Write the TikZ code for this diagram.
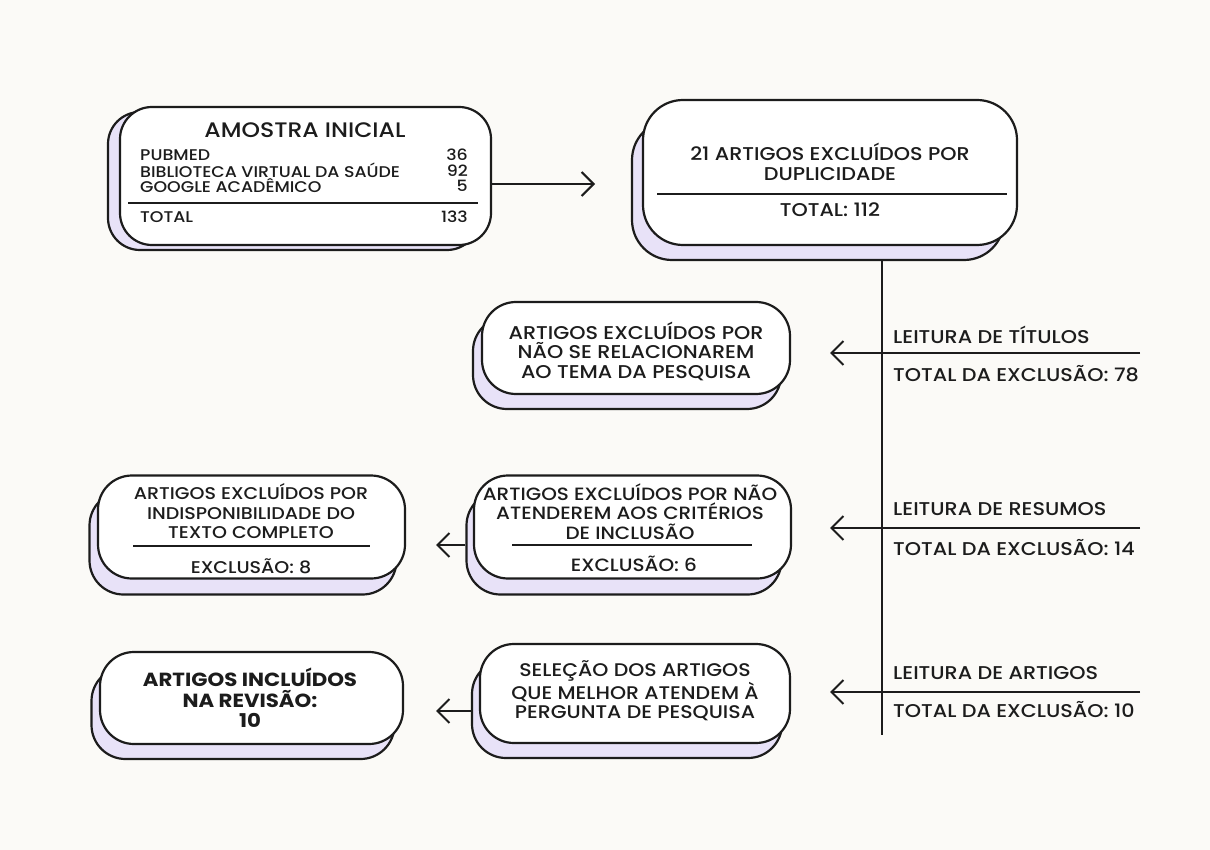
\documentclass[tikz,border=0pt]{standalone}
\usepackage{fontspec}
\setmainfont{Poppins}[UprightFont=* Medium, BoldFont=* Bold, FakeStretch=1.12]
\usetikzlibrary{arrows.meta,calc}
\definecolor{bgc}{RGB}{251,250,247}
\definecolor{lav}{RGB}{232,226,248}
\definecolor{ink}{RGB}{28,28,28}
\begin{document}
\begin{tikzpicture}[x=1pt,y=-1pt,
  front/.style={draw=ink, line width=2.2pt, fill=white, rounded corners=#1, inner sep=0pt},
  back/.style={draw=ink, line width=2.2pt, fill=lav, rounded corners=#1, inner sep=0pt},
  arr/.style={draw=ink, line width=2pt, -{Straight Barb[length=12pt,width=24pt,line width=2pt]}},
  rule/.style={draw=ink, line width=2pt},
  txt/.style={text=ink, inner sep=0pt, align=center, font=\fontsize{18.5}{19.5}\selectfont},
  small/.style={text=ink, inner sep=0pt, font=\fontsize{15.5}{15.5}\selectfont},
  lab/.style={text=ink, inner sep=0pt, anchor=west, font=\fontsize{18.5}{20}\selectfont}
]
\fill[bgc] (0,0) rectangle (1210,850);
\useasboundingbox (0,0) rectangle (1210,850);

% ---- connectors (behind boxes)
\coordinate (vtop) at (882,250);
\coordinate (vbot) at (882,735);
\draw[rule] (vtop) -- (vbot);

% ---- Box 1
\node[back=32pt, minimum width=371pt, minimum height=138pt] (b1s) at (293.5,181) {};
\node[front=32pt, minimum width=371pt, minimum height=138pt] (b1) at (305.5,176) {};
\node[text=ink, inner sep=0pt, font=\fontsize{21}{22}\selectfont] (b1t) at (305,130) {AMOSTRA INICIAL};
\node[small, anchor=west] (p1) at (140,155) {PUBMED};
\node[small, anchor=west] (p2) at (140,170.5) {BIBLIOTECA VIRTUAL DA SAÚDE};
\node[small, anchor=west] (p3) at (140,186) {GOOGLE ACADÊMICO};
\node[small, anchor=east] (n1) at (468,155) {36};
\node[small, anchor=east] (n2) at (468,170.5) {92};
\node[small, anchor=east] (n3) at (468,186) {5};
\draw[rule] (128,203) -- (478,203);
\node[small, anchor=west] (pt) at (140,217) {TOTAL};
\node[small, anchor=east] (nt) at (468,217) {133};

% ---- Box 2
\node[back=40pt, minimum width=372pt, minimum height=140pt] (b2s) at (818,190) {};
\node[front=40pt, minimum width=374pt, minimum height=145pt] (b2) at (830,172.5) {};
\node[txt, font=\fontsize{18.5}{20.5}\selectfont] (b2t) at (830,162) {21 ARTIGOS EXCLUÍDOS POR\\DUPLICIDADE};
\draw[rule] (657,194) -- (1007,194);
\node[txt, font=\fontsize{18.5}{20.5}\selectfont] (b2n) at (830,210) {TOTAL: 112};

% ---- Box 3
\node[back=34pt, minimum width=308pt, minimum height=92pt] (b3s) at (627,363) {};
\node[front=34pt, minimum width=308pt, minimum height=92pt] (b3) at (636,348) {};
\node[txt] (b3t) at (636,351) {ARTIGOS EXCLUÍDOS POR\\NÃO SE RELACIONAREM\\AO TEMA DA PESQUISA};

% ---- Box 4
\node[back=34pt, minimum width=315pt, minimum height=103pt] (b4s) at (624,543) {};
\node[front=34pt, minimum width=317pt, minimum height=103pt] (b4) at (632.5,527) {};
\node[txt, font=\fontsize{17.8}{19.5}\selectfont] (b4t) at (630,511.5) {ARTIGOS EXCLUÍDOS POR NÃO\\ATENDEREM AOS CRITÉRIOS\\DE INCLUSÃO};
\draw[rule] (512,545) -- (752,545);
\node[txt, font=\fontsize{17.8}{20}\selectfont] (b4n) at (634,564) {EXCLUSÃO: 6};

% ---- Box 5
\node[back=34pt, minimum width=307pt, minimum height=103pt] (b5s) at (243,543) {};
\node[front=34pt, minimum width=307pt, minimum height=103pt] (b5) at (251.5,527) {};
\node[txt, font=\fontsize{17}{19.5}\selectfont] (b5t) at (251,511.5) {ARTIGOS EXCLUÍDOS POR\\INDISPONIBILIDADE DO\\TEXTO COMPLETO};
\draw[rule] (133,546) -- (370,546);
\node[txt, font=\fontsize{17}{20}\selectfont] (b5n) at (251,566) {EXCLUSÃO: 8};

% ---- Box 6
\node[back=34pt, minimum width=310pt, minimum height=98pt] (b6s) at (627,709) {};
\node[front=34pt, minimum width=310pt, minimum height=99pt] (b6) at (635,693.5) {};
\node[txt, font=\fontsize{18.3}{18.8}\selectfont] (b6t) at (635,691) {SELEÇÃO DOS ARTIGOS\\QUE MELHOR ATENDEM À\\PERGUNTA DE PESQUISA};

% ---- Box 7
\node[back=34pt, minimum width=303pt, minimum height=92pt] (b7s) at (243,713) {};
\node[front=34pt, minimum width=303pt, minimum height=92pt] (b7) at (251.5,698) {};
\node[txt, font=\fontsize{19}{20.5}\selectfont\bfseries] (b7t) at (250,698) {ARTIGOS INCLUÍDOS\\NA REVISÃO:\\10};

% ---- arrows
\coordinate (a1tip) at (595,184);
\draw[arr] (b1.east |- a1tip) -- (a1tip);

\coordinate (r1) at (1140,353);  \coordinate (r1tip) at (830,353);
\coordinate (r2) at (1140,528);  \coordinate (r2tip) at (830,528);
\coordinate (r3) at (1140,692);  \coordinate (r3tip) at (830,692);
\draw[arr] (r1) -- (r1tip);
\draw[arr] (r2) -- (r2tip);
\draw[arr] (r3) -- (r3tip);

\coordinate (a4tip) at (436,545);
\draw[arr] (b4s.west |- a4tip) -- (a4tip);
\coordinate (a6tip) at (436,711);
\draw[arr] (b6s.west |- a6tip) -- (a6tip);

% ---- right labels
\node[lab] (l1a) at (893,335) {LEITURA DE TÍTULOS};
\node[lab] (l1b) at (893,373.5) {TOTAL DA EXCLUSÃO: 78};
\node[lab] (l2a) at (893,509) {LEITURA DE RESUMOS};
\node[lab] (l2b) at (893,548) {TOTAL DA EXCLUSÃO: 14};
\node[lab] (l3a) at (893,673) {LEITURA DE ARTIGOS};
\node[lab] (l3b) at (893,710) {TOTAL DA EXCLUSÃO: 10};
\end{tikzpicture}
\end{document}
